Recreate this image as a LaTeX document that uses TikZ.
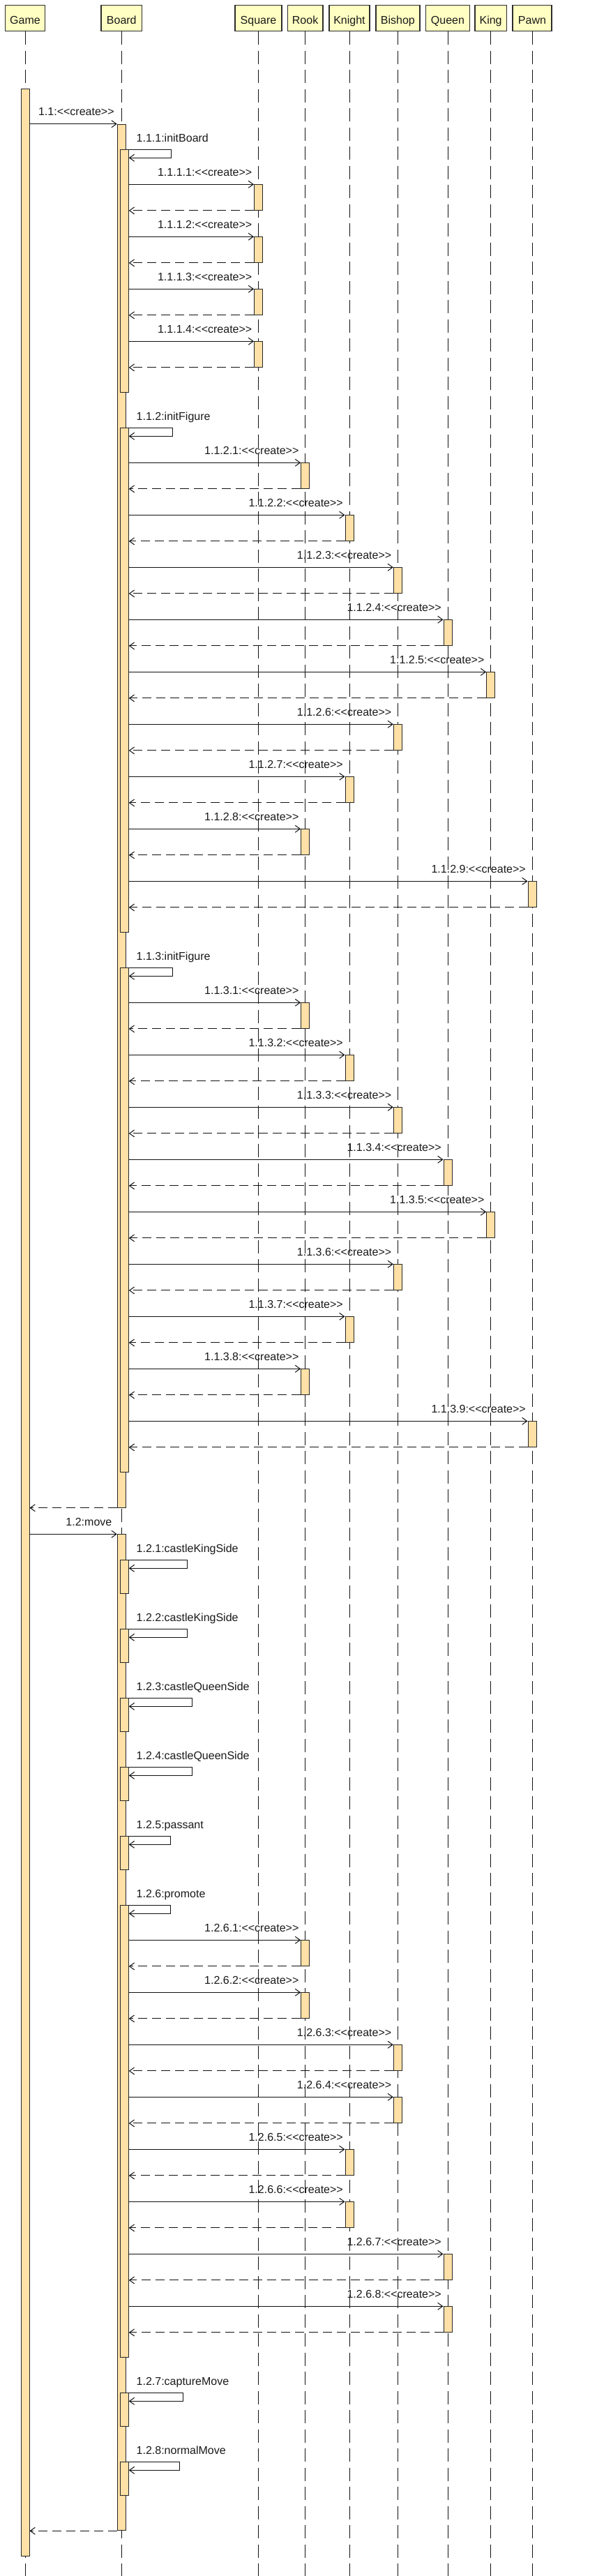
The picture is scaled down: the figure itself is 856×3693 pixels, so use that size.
\documentclass[tikz,border=0pt]{standalone}
\usepackage{fontspec}
\setmainfont{Liberation Sans}
\usetikzlibrary{arrows.meta}
\definecolor{hdr}{RGB}{255,255,195}
\definecolor{actc}{RGB}{255,224,166}
\definecolor{ln}{RGB}{17,17,17}
\definecolor{txt}{RGB}{26,26,26}
\definecolor{bord}{RGB}{45,45,45}
\newcommand\dlt{<\kern0pt<}
\newcommand\dgt{>\kern0pt>}
\begin{document}
\begin{tikzpicture}[x=1pt,y=-1pt,
  every node/.style={font=\fontsize{16}{19}\selectfont, text=txt},
  hdrbox/.style={draw=bord, line width=1.6pt, fill=hdr, minimum height=37pt, inner xsep=0pt, inner ysep=0pt, text height=16.2pt, text depth=0pt, anchor=north},
  act/.style={draw=black!85, line width=1pt, fill=actc, minimum width=12pt, inner sep=0pt, anchor=north},
  msg/.style={draw=ln, line width=1pt, -{Straight Barb[length=7pt,width=10pt]}},
  ret/.style={msg, dash pattern=on 13pt off 7pt},
  life/.style={draw=ln, line width=1pt, dash pattern=on 19pt off 8.5pt},
  lbl/.style={inner sep=0pt}]
\fill[white] (0,0) rectangle (856,3693);
\useasboundingbox (0,0) rectangle (856,3693);
% headers
\node[hdrbox, minimum width=57pt]   (game)   at (36,6.7)    {Game};
\node[hdrbox, minimum width=58.6pt] (board)  at (174.3,6.7) {Board};
\node[hdrbox, minimum width=67pt]   (square) at (370.5,6.7) {Square};
\node[hdrbox, minimum width=50.3pt] (rook)   at (437.6,6.7) {Rook};
\node[hdrbox, minimum width=58pt]   (knight) at (501,6.7)   {Knight};
\node[hdrbox, minimum width=63.4pt] (bishop) at (570.4,6.7) {Bishop};
\node[hdrbox, minimum width=62.7pt] (queen)  at (642,6.7)   {Queen};
\node[hdrbox, minimum width=45.4pt] (king)   at (703.6,6.7) {King};
\node[hdrbox, minimum width=55.7pt] (pawn)   at (763,6.7)   {Pawn};
% lifelines
\foreach \n in {game,board,square,rook,knight,bishop,queen,king,pawn}
  \draw[life] (\n.south) -- (\n.south |- 0,3693);
% main activations
\node[act, minimum height=3537.3pt] (ga)  at (36,127) {};
\node[act, minimum height=1983pt]   (ba1) at (174.3,177.7) {};
\node[act, minimum height=1428pt]   (ba2) at (174.3,2199.3) {};
% 1.1
\draw[msg] (ba1.north west -| ga.east) -- (ba1.north west);
\node[lbl, anchor=base east] at ([xshift=-4pt,yshift=12pt]ba1.north west) {1.1:\dlt create\dgt};
% 1.1.1 initBoard
\node[act, minimum height=348pt] (nb1) at (178.3,214.3) {};
\draw[msg] (nb1.north east) -- ++(60.7,0) -- ++(0,12) -- ([yshift=-12pt]nb1.north east);
\node[lbl, anchor=base west] at ([xshift=10.7pt,yshift=11pt]nb1.north east) {1.1.1:initBoard};
\foreach \xx [count=\k] in {370.5,370.5,370.5,370.5} {
  \node[act, minimum height=36.6pt] (ca\k) at (\xx,{264.3+75*(\k-1)}) {};
  \draw[msg] (ca\k.north west -| nb1.east) -- (ca\k.north west);
  \draw[ret] (ca\k.south west) -- (ca\k.south west -| nb1.east);
  \node[lbl, anchor=base east] at ([xshift=-2.5pt,yshift=12pt]ca\k.north west) {1.1.1.\k:\dlt create\dgt};
}
% 1.1.2 initFigure
\node[act, minimum height=722.7pt] (nb2) at (178.3,613.3) {};
\draw[msg] (nb2.north east) -- ++(62.2,0) -- ++(0,12) -- ([yshift=-12pt]nb2.north east);
\node[lbl, anchor=base west] at ([xshift=10.7pt,yshift=11pt]nb2.north east) {1.1.2:initFigure};
\foreach \xx [count=\k] in {437.6,501,570.4,642,703.6,570.4,501,437.6,763} {
  \node[act, minimum height=36.6pt] (cb\k) at (\xx,{663.3+75*(\k-1)}) {};
  \draw[msg] (cb\k.north west -| nb2.east) -- (cb\k.north west);
  \draw[ret] (cb\k.south west) -- (cb\k.south west -| nb2.east);
  \node[lbl, anchor=base east] at ([xshift=-2.5pt,yshift=12pt]cb\k.north west) {1.1.2.\k:\dlt create\dgt};
}
% 1.1.3 initFigure
\node[act, minimum height=723pt] (nb3) at (178.3,1387.3) {};
\draw[msg] (nb3.north east) -- ++(62.2,0) -- ++(0,12) -- ([yshift=-12pt]nb3.north east);
\node[lbl, anchor=base west] at ([xshift=10.7pt,yshift=11pt]nb3.north east) {1.1.3:initFigure};
\foreach \xx [count=\k] in {437.6,501,570.4,642,703.6,570.4,501,437.6,763} {
  \node[act, minimum height=36.6pt] (cc\k) at (\xx,{1437.3+75*(\k-1)}) {};
  \draw[msg] (cc\k.north west -| nb3.east) -- (cc\k.north west);
  \draw[ret] (cc\k.south west) -- (cc\k.south west -| nb3.east);
  \node[lbl, anchor=base east] at ([xshift=-2.5pt,yshift=12pt]cc\k.north west) {1.1.3.\k:\dlt create\dgt};
}
% return to Game
\draw[ret] (ba1.south west) -- (ba1.south west -| ga.east);
% 1.2 move
\draw[msg] (ba2.north west -| ga.east) -- (ba2.north west);
\node[lbl, anchor=base east] at ([xshift=-7.3pt,yshift=12pt]ba2.north west) {1.2:move};
% simple self calls
\node[act, minimum height=48pt] (n121) at (178.3,2236.3) {};
\draw[msg] (n121.north east) -- ++(83.2,0) -- ++(0,12) -- ([yshift=-12pt]n121.north east);
\node[lbl, anchor=base west] at ([xshift=10.7pt,yshift=11pt]n121.north east) {1.2.1:castleKingSide};
\node[act, minimum height=48pt] (n122) at (178.3,2335.3) {};
\draw[msg] (n122.north east) -- ++(83.2,0) -- ++(0,12) -- ([yshift=-12pt]n122.north east);
\node[lbl, anchor=base west] at ([xshift=10.7pt,yshift=11pt]n122.north east) {1.2.2:castleKingSide};
\node[act, minimum height=48pt] (n123) at (178.3,2434.3) {};
\draw[msg] (n123.north east) -- ++(90.7,0) -- ++(0,12) -- ([yshift=-12pt]n123.north east);
\node[lbl, anchor=base west] at ([xshift=10.7pt,yshift=11pt]n123.north east) {1.2.3:castleQueenSide};
\node[act, minimum height=48pt] (n124) at (178.3,2533.3) {};
\draw[msg] (n124.north east) -- ++(90.7,0) -- ++(0,12) -- ([yshift=-12pt]n124.north east);
\node[lbl, anchor=base west] at ([xshift=10.7pt,yshift=11pt]n124.north east) {1.2.4:castleQueenSide};
\node[act, minimum height=48pt] (n125) at (178.3,2632.3) {};
\draw[msg] (n125.north east) -- ++(59.4,0) -- ++(0,12) -- ([yshift=-12pt]n125.north east);
\node[lbl, anchor=base west] at ([xshift=10.7pt,yshift=11pt]n125.north east) {1.2.5:passant};
% 1.2.6 promote
\node[act, minimum height=648pt] (n126) at (178.3,2731.3) {};
\draw[msg] (n126.north east) -- ++(59.4,0) -- ++(0,12) -- ([yshift=-12pt]n126.north east);
\node[lbl, anchor=base west] at ([xshift=10.7pt,yshift=11pt]n126.north east) {1.2.6:promote};
\foreach \xx [count=\k] in {437.6,437.6,570.4,570.4,501,501,642,642} {
  \node[act, minimum height=36.6pt] (cd\k) at (\xx,{2781.3+75*(\k-1)}) {};
  \draw[msg] (cd\k.north west -| n126.east) -- (cd\k.north west);
  \draw[ret] (cd\k.south west) -- (cd\k.south west -| n126.east);
  \node[lbl, anchor=base east] at ([xshift=-2.5pt,yshift=12pt]cd\k.north west) {1.2.6.\k:\dlt create\dgt};
}
% 1.2.7 / 1.2.8
\node[act, minimum height=48pt] (n127) at (178.3,3430.3) {};
\draw[msg] (n127.north east) -- ++(77.7,0) -- ++(0,12) -- ([yshift=-12pt]n127.north east);
\node[lbl, anchor=base west] at ([xshift=10.7pt,yshift=11pt]n127.north east) {1.2.7:captureMove};
\node[act, minimum height=48pt] (n128) at (178.3,3529.3) {};
\draw[msg] (n128.north east) -- ++(72.2,0) -- ++(0,12) -- ([yshift=-12pt]n128.north east);
\node[lbl, anchor=base west] at ([xshift=10.7pt,yshift=11pt]n128.north east) {1.2.8:normalMove};
% final return
\draw[ret] (ba2.south west) -- (ba2.south west -| ga.east);
\end{tikzpicture}
\end{document}
